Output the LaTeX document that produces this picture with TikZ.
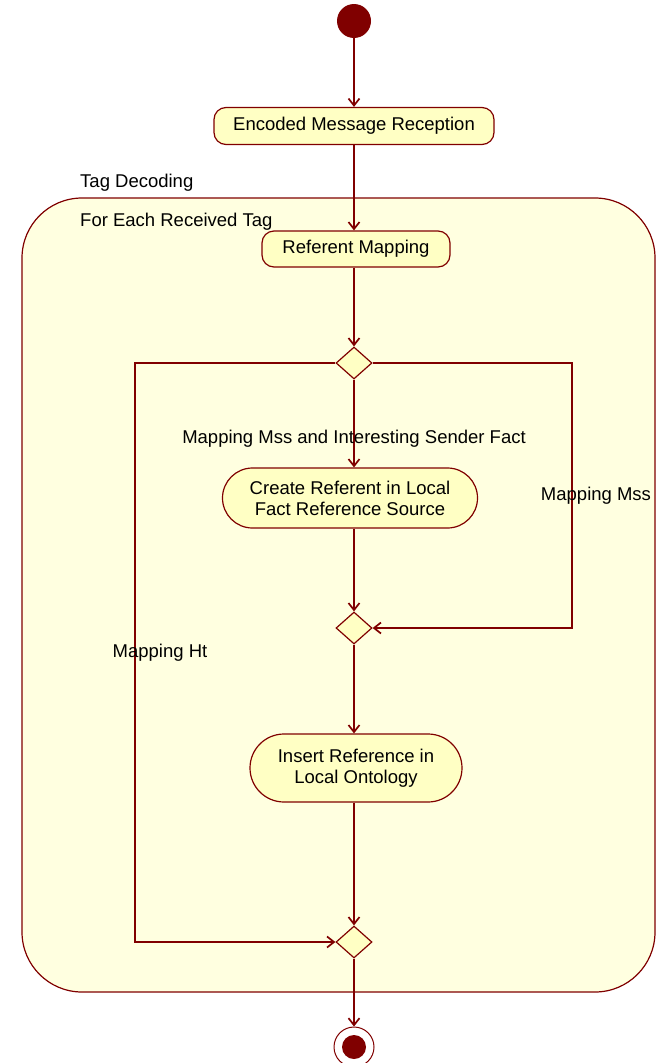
\documentclass[tikz,border=0pt]{standalone}
\usepackage{fontspec}
\setmainfont{Liberation Sans}
\usepackage{xcolor}
\usepackage{tikz}
\usetikzlibrary{shapes.geometric, arrows.meta, positioning, calc}
\definecolor{umlred}{RGB}{128,0,0}
\definecolor{actfill}{RGB}{255,255,196}
\definecolor{regionfill}{RGB}{255,255,224}
\tikzstyle{startnode} = [circle, fill=umlred, minimum size=34pt, inner sep=0pt]
\tikzstyle{endnode} = [circle, draw=umlred, line width=1pt, minimum size=40pt, inner sep=0pt, path picture={\fill[umlred] (path picture bounding box.center) circle (12pt);}]
\tikzstyle{action} = [rectangle, draw=umlred, line width=1.2pt, fill=actfill, text centered, align=center, inner sep=0pt]
\tikzstyle{decision} = [diamond, draw=umlred, line width=1.2pt, fill=actfill, minimum width=36pt, minimum height=32pt, inner sep=0pt]
\tikzstyle{region} = [rectangle, draw=umlred, line width=1.2pt, fill=regionfill, rounded corners=60pt]
\tikzstyle{arrow} = [line width=1.7pt, draw=umlred, -{Straight Barb[length=7pt,width=11pt]}]

\begin{document}
\begin{tikzpicture}[x=1pt, y=-1pt, font=\fontsize{18.5}{21}\selectfont]
\useasboundingbox (0,0) rectangle (663,1063);
\node (tagdecoding) [region, minimum width=633pt, minimum height=794pt] at (338.5,595) {};
\node (regionlabel) [anchor=west, inner sep=0pt] at (80,183) {Tag Decoding};
\node (looplabel) [anchor=west, inner sep=0pt] at (80,222) {For Each Received Tag};

\node (start) [startnode] at (354,21) {};
\node (encoded) [action, rounded corners=12pt, minimum width=280pt, minimum height=37pt] at (354,126) {Encoded Message Reception};
\node (referent) [action, rounded corners=12pt, minimum width=188pt, minimum height=36pt] at (356,249) {Referent Mapping};
\node (split) [decision] at (354,363) {};
\node (create) [action, rounded corners=30pt, minimum width=255pt, minimum height=60pt] at (350,498) {Create Referent in Local\\Fact Reference Source};
\node (merge) [decision] at (354,628) {};
\node (insert) [action, rounded corners=34pt, minimum width=212pt, minimum height=68pt] at (356,768) {Insert Reference in\\Local Ontology};
\node (join) [decision] at (354,942) {};
\node (end) [endnode] at (354,1047) {};

\coordinate (hitcorner) at (135,363);
\coordinate (msscorner) at (572,363);

\draw [arrow] (start) -- (start |- encoded.north);
\draw [arrow] (encoded.south) -- (encoded.south |- referent.north);
\draw [arrow] (referent.south -| split) -- (split);
\draw [arrow] (split) -- (create.north -| split) node[pos=0.67] {Mapping Mss and Interesting Sender Fact};
\draw [arrow] (split.west) -- (hitcorner) |- (join.west) node[pos=0.25, xshift=25pt] {Mapping Ht};
\draw [arrow] (split.east) -- (msscorner) |- (merge.east) node[pos=0.25, xshift=24pt] {Mapping Mss};
\draw [arrow] (create.south -| merge) -- (merge);
\draw [arrow] (merge) -- (insert.north -| merge);
\draw [arrow] (insert.south -| join) -- (join);
\draw [arrow] (join) -- (end);
\end{tikzpicture}
\end{document}
